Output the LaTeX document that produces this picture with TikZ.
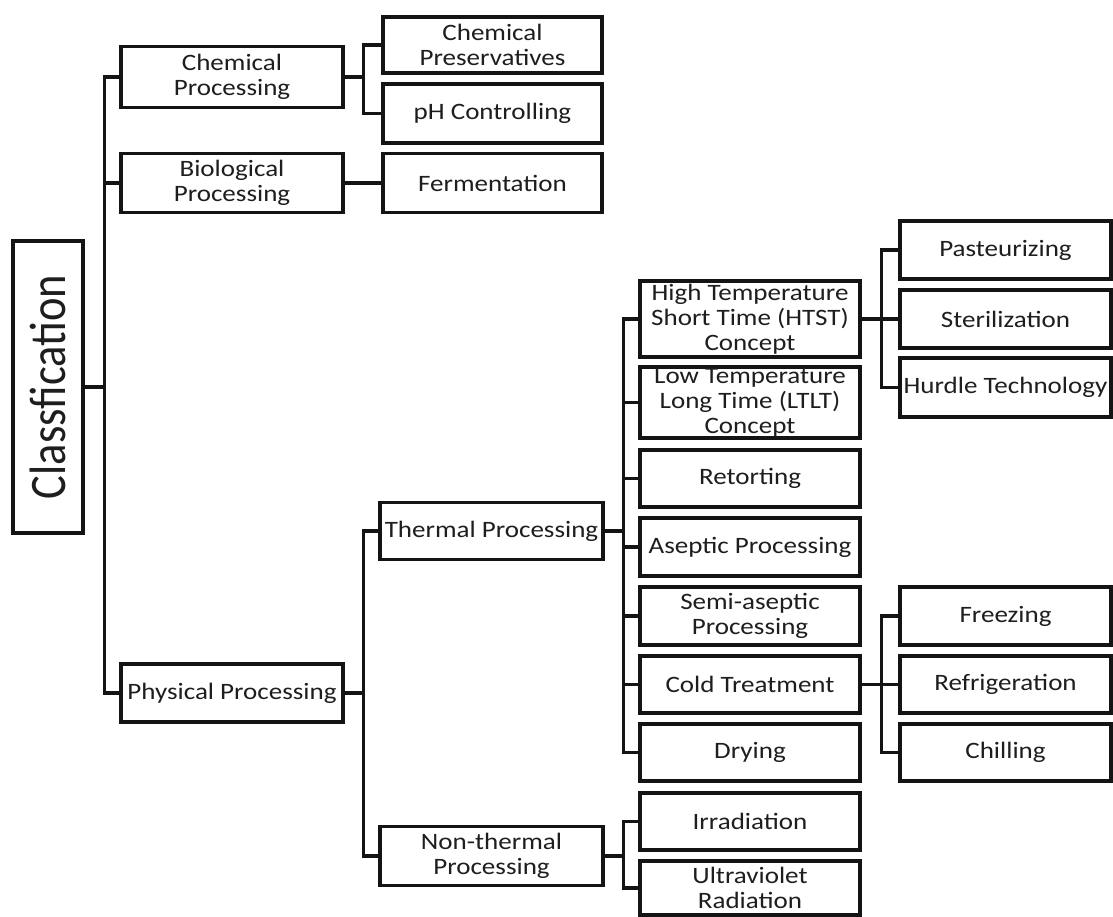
\documentclass[tikz,border=0pt]{standalone}
\usepackage{fontspec}
\setmainfont{Carlito}[FakeStretch=1.15]
\newfontfamily\clsfont{Carlito}
\definecolor{ink}{RGB}{20,20,20}
\definecolor{txt}{RGB}{30,30,30}
\begin{document}
\begin{tikzpicture}[x=1pt,y=-1pt,
  box/.style={draw=ink,line width=3.2pt,rectangle,inner sep=0pt,align=center,
    text=txt,font=\fontsize{23.5}{25}\selectfont},
  w1/.style={box,minimum width=222pt},
  w2/.style={box,minimum width=219pt},
  w3/.style={box,minimum width=223pt},
  w4/.style={box,minimum width=220pt},
  w5/.style={box,minimum width=211pt},
  link/.style={draw=ink,line width=3.2pt}]
\useasboundingbox[fill=white] (0,0) rectangle (1113,917);
% root
\node[box,minimum width=70pt,minimum height=292pt] (cls) at (48,387)
  {\rotatebox{90}{\scalebox{1}[1.15]{\clsfont\fontsize{44.5}{48}\selectfont Classfication}}};
% level 1
\node[w1,minimum height=61pt] (chem) at (232,77) {Chemical\\Processing};
\node[w1,minimum height=59pt] (bio) at (232,183) {Biological\\Processing};
\node[w1,minimum height=58pt] (phys) at (232,693) {Physical Processing};
% level 2
\node[w2,minimum height=56pt] (pres) at (492.5,45) {Chemical\\Preservatives};
\node[w2,minimum height=59pt] (ph) at (492.5,113.5) {pH Controlling};
\node[w2,minimum height=59pt] (ferm) at (492.5,183) {Fermentation};
\node[w3,minimum height=57pt] (therm) at (491.5,531) {Thermal Processing};
\node[w3,minimum height=59pt] (nonth) at (491.5,856) {Non-thermal\\Processing};
% level 3
\node[w4,minimum height=76pt] (htst) at (750,319) {High Temperature\\Short Time (HTST)\\Concept};
\node[w4,minimum height=71pt] (ltlt) at (750,402.5) {Low Temperature\\Long Time (LTLT)\\Concept};
\node[w4,minimum height=57pt] (ret) at (750,478.5) {Retorting};
\node[w4,minimum height=58pt] (asep) at (750,547) {Aseptic Processing};
\node[w4,minimum height=58pt] (semi) at (750,616) {Semi-aseptic\\Processing};
\node[w4,minimum height=57pt] (cold) at (750,684.5) {Cold Treatment};
\node[w4,minimum height=57pt] (dry) at (750,752.5) {Drying};
\node[w4,minimum height=57pt] (irr) at (750,821.5) {Irradiation};
\node[w4,minimum height=54pt] (uv) at (750,888) {Ultraviolet\\Radiation};
% level 4
\node[w5,minimum height=58pt] (past) at (1005.5,250) {Pasteurizing};
\node[w5,minimum height=58pt] (ster) at (1005.5,319) {Sterilization};
\node[w5,minimum height=59pt] (hurd) at (1005.5,387.5) {Hurdle Technology};
\node[w5,minimum height=58pt] (frz) at (1005.5,616) {Freezing};
\node[w5,minimum height=57pt] (refr) at (1005.5,684.5) {Refrigeration};
\node[w5,minimum height=57pt] (chil) at (1005.5,752.5) {Chilling};
% connectors
\foreach \c in {chem,bio,phys} \draw[link] (cls.east) -- ++(20,0) |- (\c.west);
\foreach \c in {pres,ph} \draw[link] (chem.east) -- ++(19,0) |- (\c.west);
\draw[link] (bio.east) -- (ferm.west);
\foreach \c in {therm,nonth} \draw[link] (phys.east) -- ++(19,0) |- (\c.west);
\foreach \c in {htst,ltlt,ret,asep,semi,cold,dry} \draw[link] (therm.east) -- ++(19,0) |- (\c.west);
\foreach \c in {irr,uv} \draw[link] (nonth.east) -- ++(19,0) |- (\c.west);
\foreach \c in {past,ster,hurd} \draw[link] (htst.east) -- ++(20,0) |- (\c.west);
\foreach \c in {frz,refr,chil} \draw[link] (cold.east) -- ++(20,0) |- (\c.west);
\end{tikzpicture}
\end{document}
